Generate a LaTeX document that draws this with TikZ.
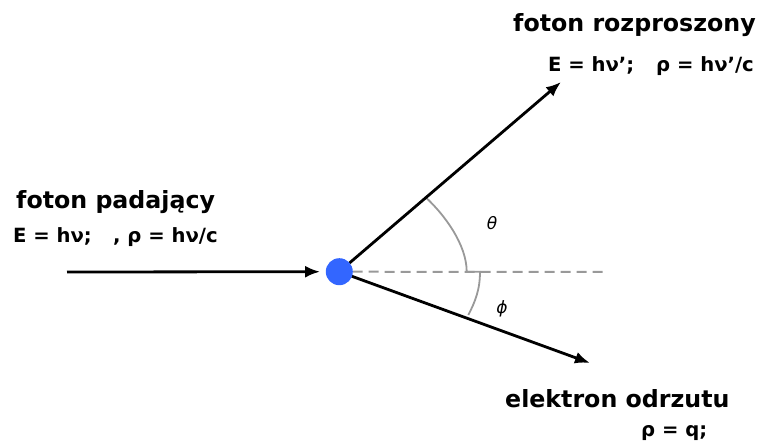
\documentclass[tikz,border=0pt]{standalone}
\usepackage{fontspec}
\setmainfont{DejaVu Sans}
\usetikzlibrary{arrows.meta}
\tikzset{
  arr/.style={line width=2.8pt, -{Latex[length=15pt,width=12pt]}},
  anglearc/.style={draw=black!40, line width=1.8pt},
  titletxt/.style={font=\fontsize{23.7}{28}\selectfont\bfseries, inner sep=0pt, anchor=base west},
  formtxt/.style={font=\fontsize{19.6}{23}\selectfont\bfseries, inner sep=0pt, anchor=base west},
  angtxt/.style={font=\fontsize{17}{20}\selectfont\itshape, inner sep=0pt},
}
\begin{document}
\begin{tikzpicture}[x=1pt,y=-1pt]
\useasboundingbox (0,0) rectangle (761,441);
% geometry
\coordinate (inS) at (67,272);
\coordinate (upT) at (561,82);
\coordinate (loT) at (590,363);
\coordinate (dashE) at (608,272);
\coordinate (th0) at (425,196.7);
\coordinate (th1) at (466.7,271.7);
\coordinate (ph0) at (480,271.7);
\coordinate (ph1) at (468.3,315);
% dashed reference line
\node[circle, minimum size=26pt, inner sep=0pt] (c) at (339.3,271.7) {};
\draw[draw=black!40, line width=2pt, dash pattern=on 10pt off 6pt] (c) -- (dashE);
% angle arcs
\draw[anglearc] (th0) .. controls (445,215) and (466.7,245) .. (th1) -- (ph0)
  .. controls (480,290) and (475,302) .. (ph1);
% arrows
\draw[arr, shorten >=6pt] (inS) -- (c.west);
\draw[arr] (c) -- (upT);
\draw[arr] (c) -- (loT);
% dot
\fill[color={rgb,255:red,51;green,102;blue,255}] (c.center) circle[radius=13.5pt];
% angle labels
\node[angtxt] (theta) at (492,223) {θ};
\node[angtxt] (phi) at (502,309) {ϕ};
% texts
\node[titletxt] (frT) at (513,32) {foton rozproszony};
\node[formtxt] (frE) at (548,72) {E = hν';};
\node[formtxt] (frP) at (656,72) {ρ = hν'/c};
\node[titletxt] (fpT) at (16,209) {foton padający};
\node[formtxt] (fpE) at (13,243) {E = hν;};
\node[formtxt] (fpP) at (113,243) {, ρ = hν/c};
\node[titletxt] (elT) at (505,407) {elektron odrzutu};
\node[formtxt] (elP) at (641,436) {ρ = q;};
\end{tikzpicture}
\end{document}
